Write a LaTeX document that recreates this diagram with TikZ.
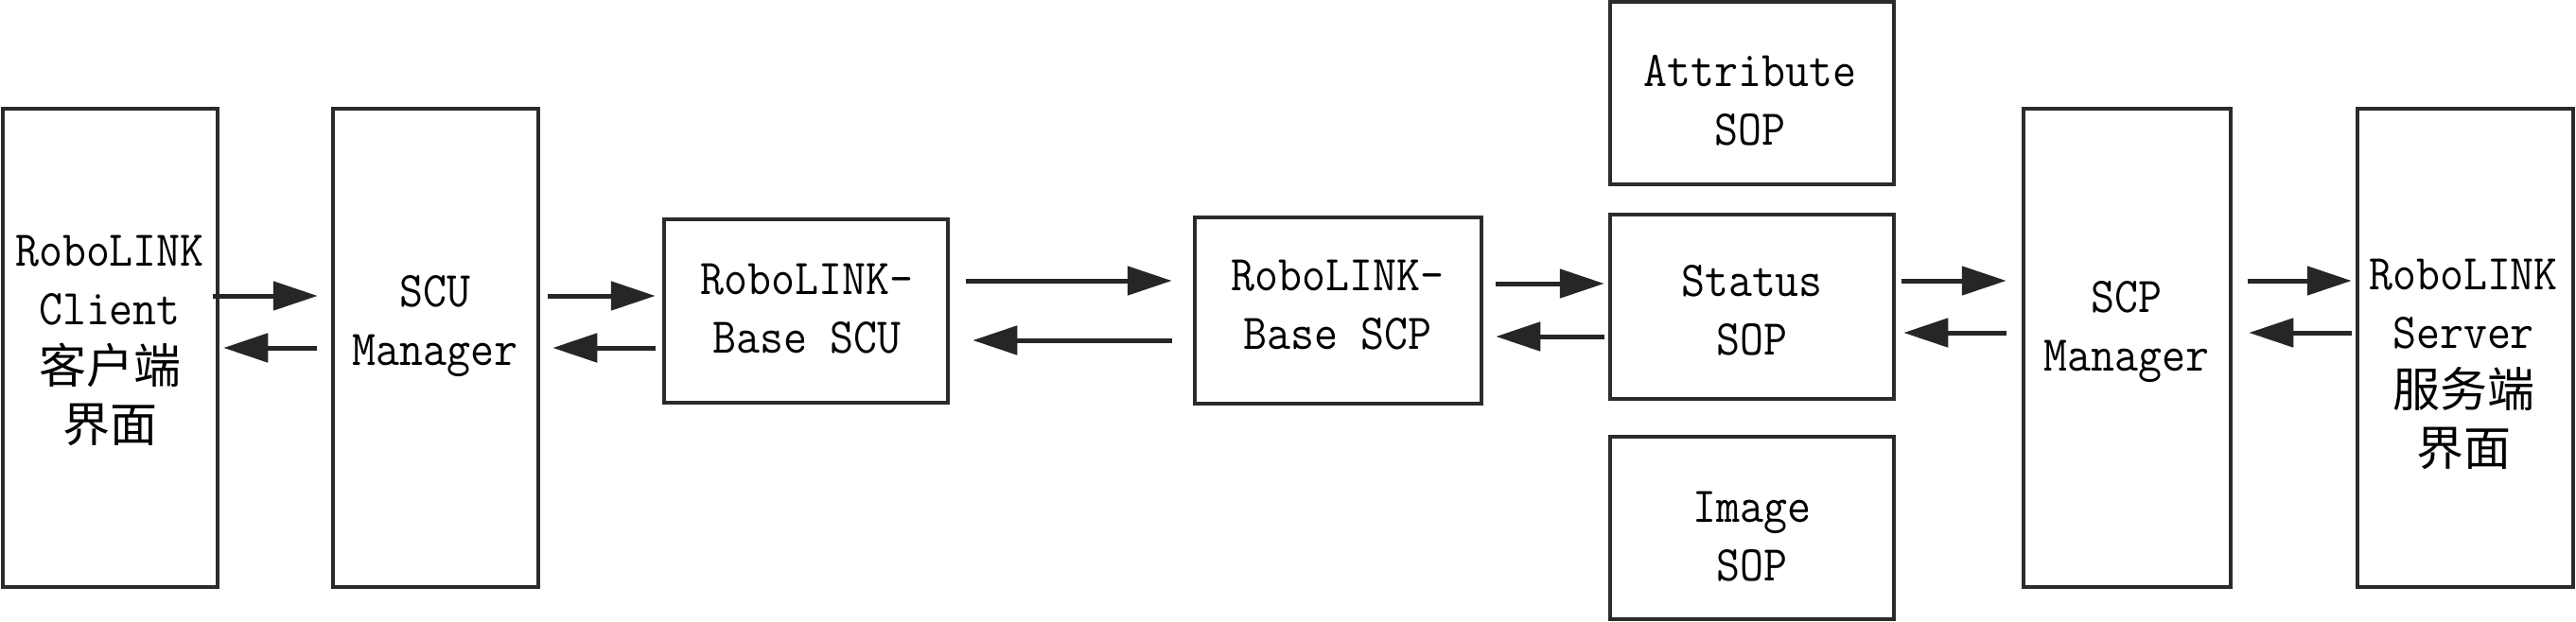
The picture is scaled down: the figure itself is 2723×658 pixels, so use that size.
\documentclass[tikz,border=0pt]{standalone}
\usepackage{fontspec}
\setmonofont{Latin Modern Mono}[FakeStretch=0.915]
\newfontfamily\cjk{Noto Sans CJK SC}
\usetikzlibrary{arrows.meta}
\definecolor{boxc}{HTML}{2B2B2B}
\definecolor{arrc}{HTML}{262626}
\tikzset{
  blk/.style={draw=boxc, line width=4.5pt, rectangle, inner sep=0pt, fill=white},
  txt/.style={align=center, inner sep=0pt, text=black, font=\ttfamily\fontsize{53}{62}\selectfont},
  cjkt/.style={font=\cjk\fontsize{50}{62}\selectfont},
  arr/.style={draw=arrc, line width=5pt, -{Triangle[length=47pt,width=30pt]}}
}
\begin{document}
\begin{tikzpicture}[x=1pt,y=-1pt]
\useasboundingbox[fill=white] (0,0) rectangle (2723,658);
% boxes
\node[blk, minimum width=227pt, minimum height=506pt] (client) at (116.5,368) {};
\node[blk, minimum width=217pt, minimum height=506pt] (scum) at (460.5,368) {};
\node[blk, minimum width=300pt, minimum height=194pt] (bscu) at (852,329) {};
\node[blk, minimum width=303pt, minimum height=197pt] (bscp) at (1414.5,328.5) {};
\node[blk, minimum width=300pt, minimum height=193pt] (attr) at (1852,98.5) {};
\node[blk, minimum width=300pt, minimum height=195pt] (status) at (1852,324.5) {};
\node[blk, minimum width=300pt, minimum height=193pt] (image) at (1852,558.5) {};
\node[blk, minimum width=219pt, minimum height=506pt] (scpm) at (2248.5,368) {};
\node[blk, minimum width=228pt, minimum height=506pt] (server) at (2606,368) {};
% texts
\node[txt] (clientT) at (116,360) {RoboLINK\\Client\\{\cjk\fontsize{50}{62}\selectfont 客户端}\\{\cjk\fontsize{50}{62}\selectfont 界面}};
\node[txt] (scumT) at (460,345) {SCU\\Manager};
\node[txt] (bscuT) at (853,327) {RoboLINK-\\Base SCU};
\node[txt] (bscpT) at (1414,323) {RoboLINK-\\Base SCP};
\node[txt] (attrT) at (1850,106) {Attribute\\SOP};
\node[txt] (statusT) at (1852,328) {Status\\SOP};
\node[txt] (imageT) at (1852,568) {Image\\SOP};
\node[txt] (scpmT) at (2248,351) {SCP\\Manager};
\node[txt] (serverT) at (2604,385) {RoboLINK\\Server\\{\cjk\fontsize{50}{62}\selectfont 服务端}\\{\cjk\fontsize{50}{62}\selectfont 界面}};
% arrow levels
\coordinate (ya) at (0,313);
\coordinate (yb) at (0,368);
\coordinate (yc) at (0,297);
\coordinate (yd) at (0,360);
\coordinate (ye) at (0,300);
\coordinate (yf) at (0,356);
\coordinate (yg) at (0,352);
% arrows
\draw[arr, shorten <=-7pt, shorten >=14pt] (client.east |- ya) -- (scum.west |- ya);
\draw[arr, shorten <=15pt, shorten >=4pt] (scum.west |- yb) -- (client.east |- yb);
\draw[arr, shorten <=8pt, shorten >=7pt] (scum.east |- ya) -- (bscu.west |- ya);
\draw[arr, shorten <=7pt, shorten >=13pt] (bscu.west |- yb) -- (scum.east |- yb);
\draw[arr, shorten <=17pt, shorten >=22pt] (bscu.east |- yc) -- (bscp.west |- yc);
\draw[arr, shorten <=22pt, shorten >=24pt] (bscp.west |- yd) -- (bscu.east |- yd);
\draw[arr, shorten <=13pt, shorten >=4pt] (bscp.east |- ye) -- (status.west |- ye);
\draw[arr, shorten <=4pt, shorten >=13pt] (status.west |- yf) -- (bscp.east |- yf);
\draw[arr, shorten <=6pt, shorten >=16pt] (status.east |- yc) -- (scpm.west |- yc);
\draw[arr, shorten <=16pt, shorten >=8pt] (scpm.west |- yg) -- (status.east |- yg);
\draw[arr, shorten <=16pt, shorten >=4pt] (scpm.east |- yc) -- (server.west |- yc);
\draw[arr, shorten <=4pt, shorten >=17pt] (server.west |- yg) -- (scpm.east |- yg);
\end{tikzpicture}
\end{document}
